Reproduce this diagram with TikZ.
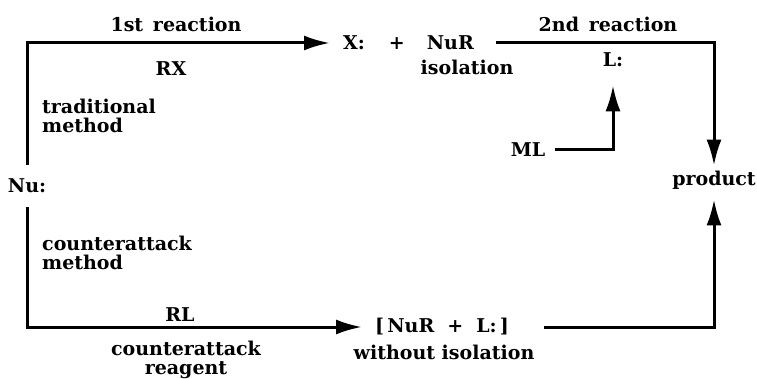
\documentclass[tikz,border=0pt]{standalone}
\usepackage{fontspec}
\setmainfont{DejaVu Serif}
\usetikzlibrary{arrows.meta}
\begin{document}
\begin{tikzpicture}[x=1pt,y=-1pt,
  lbl/.style={font=\fontsize{19}{19}\selectfont\bfseries, inner sep=0pt},
  ln/.style={line width=3pt},
  arr/.style={ln, -{Latex[length=26pt,width=15pt]}}]
\useasboundingbox (0,0) rectangle (757,379);
% nodes
\node[lbl] (nu) at (27,186) {Nu:};
\node[lbl] (first) at (176,24) {1st\, reaction};
\node[lbl] (rx) at (171,69) {RX};
\node[lbl,anchor=west,align=left] (trad) at (42,116) {traditional\\method};
\node[lbl,anchor=west,align=left] (counter) at (42,253) {counterattack\\method};
\node[lbl] (rl) at (180,315) {RL};
\node[lbl,align=center] (reag) at (186,360) {counterattack\\reagent};
\node[lbl,anchor=west] (xnur) at (343,43) {X:\hspace{24pt}+\hspace{22pt}NuR};
\node[lbl] (iso) at (467,67) {isolation};
\node[lbl] (second) at (608,24) {2nd\, reaction};
\node[lbl] (lc) at (613,60) {L:};
\node[lbl] (ml) at (528,150) {ML};
\node[lbl] (prod) at (714,180) {product};
\node[lbl] (nunl) at (442,327) {[\,NuR\hspace{13pt}+\hspace{13pt}L:\,]};
\node[lbl] (wo) at (444,352) {without isolation};
% connectors
\draw[arr] ([yshift=14pt]nu.north) |- ([xshift=-13pt]xnur.west);
\draw[arr] ([yshift=-14pt]nu.south) |- ([xshift=-13pt]nunl.west);
\draw[arr] ([xshift=22pt]xnur.east) -| ([yshift=5pt]prod.north);
\draw[arr] ([xshift=35pt]nunl.east) -| ([yshift=-10pt]prod.south);
\draw[arr] ([xshift=10pt]ml.east) -| ([yshift=-18pt]lc.south);
\end{tikzpicture}
\end{document}
